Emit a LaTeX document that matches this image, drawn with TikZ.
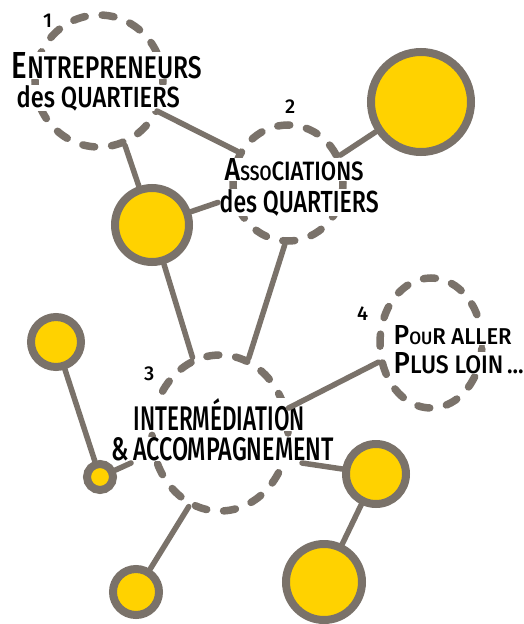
\documentclass[tikz,border=0pt]{standalone}
\usepackage{fontspec}
\setmainfont{Fira Sans}[BoldFont={Fira Sans Medium}]
\usepackage{graphicx}
\usetikzlibrary{shapes.geometric}
\definecolor{dgray}{RGB}{122,114,106}
\definecolor{dyel}{RGB}{255,210,0}
\newcommand\ini[1]{\scalebox{1.2}{#1}}
\newcommand\smc[1]{\scalebox{0.78}{#1}}
\begin{document}
\begin{tikzpicture}[x=1pt,y=-1pt,
  dot/.style={circle,draw=dgray,fill=dyel,line width=8pt,inner sep=0pt},
  dring/.style={ellipse,draw=dgray,line width=7.5pt,line cap=round,dash pattern=on 12pt off 17pt,inner sep=0pt},
  wire/.style={draw=dgray,line width=5.5pt,line cap=round},
  lbl/.style={anchor=base west,inner xsep=1.5pt,inner ysep=0.3pt,fill=white,text=black,font=\fontsize{20}{20}\selectfont\bfseries},
  num/.style={anchor=base west,inner sep=0pt,text=black,font=\fontsize{20}{20}\selectfont\bfseries}]
\useasboundingbox (0,0) rectangle (523,624);
\fill[white] (0,0) rectangle (523,624);
% dashed rings
\node[dring,minimum width=128pt,minimum height=132pt] (c1) at (99,81) {};
\node[dring,minimum width=110pt,minimum height=116pt] (c2) at (288,183) {};
\node[dring,minimum width=136pt,minimum height=156pt] (c3) at (220,433) {};
\node[dring,minimum width=102pt,minimum height=130pt] (c4) at (431,343) {};
% numbers
\node[num] (n1) at (43,27) {1};
\node[num] (n2) at (285,113) {2};
\node[num] (n3) at (144,380) {3};
\node[num] (n4) at (357,320) {4};
% labels
\node[lbl] (l1a) at (10,78) {\resizebox{190pt}{26pt}{\ini{E}NTREPRENEURS}};
\node[lbl] (l1b) at (15,107) {\resizebox{163pt}{22pt}{des QUARTIERS}};
\node[lbl] (l2a) at (223,180) {\resizebox{139pt}{22pt}{\ini{A}\smc{SSO}CIATIONS}};
\node[lbl] (l2b) at (218,212) {\resizebox{159pt}{23pt}{des QUARTIERS}};
\node[lbl] (l3a) at (132,430) {\resizebox{171pt}{32pt}{INTERMÉDIATION}};
\node[lbl] (l3b) at (110,460) {\resizebox{222pt}{23pt}{\&\,ACCOMPAGNEMENT}};
\node[lbl] (l4a) at (392,344) {\resizebox{118pt}{19pt}{\ini{P}\smc{OU}R ALLER}};
\node[lbl] (l4b) at (392,373) {\resizebox{130pt}{21pt}{\ini{P}LUS LOIN\,...}};
% yellow dots
\node[dot,minimum size=74pt] (ya) at (152,225) {};
\node[dot,minimum size=100pt] (yb) at (421,102) {};
\node[dot,minimum size=50pt] (yc) at (56,342) {};
\node[dot,minimum size=26pt] (yd) at (100,477) {};
\node[dot,minimum size=60pt] (ye) at (376,474) {};
\node[dot,minimum size=76pt] (yf) at (324,582) {};
\node[dot,minimum size=46pt] (yg) at (136,592) {};
% free ends
\coordinate (k1s) at (157,111);
\coordinate (amp) at (131,463);
\coordinate (k9s) at (302,463);
% connectors
\draw[wire] (k1s) -- (c2.148);
\draw[wire] (c1.292) -- (ya);
\draw[wire] (ya) -- (l2b.west);
\draw[wire] (c2.28) -- (yb);
\draw[wire] (c2.267) -- (c3.69);
\draw[wire] (ya) -- (c3.110);
\draw[wire] (c3.20) -- (c4.200);
\draw[wire] (yc) -- (yd);
\draw[wire] (yd) -- (amp);
\draw[wire] (k9s) -- (ye);
\draw[wire] (ye) -- (yf);
\draw[wire] (c3.247) -- (yg);
\end{tikzpicture}
\end{document}
